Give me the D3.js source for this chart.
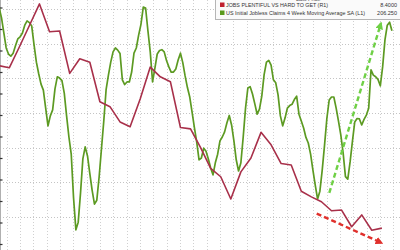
<html><head>
<script src="https://d3js.org/d3.v7.min.js"></script>
<style>
body {
  margin: 0;
  padding: 0;
  background: white;
}
svg { display: block; }
text { font-family: 'Liberation Sans', Arial, sans-serif; }
</style>
</head>
<body>
<svg id="chart" width="400" height="250"></svg>
<script>
// JOBS PLENTIFUL VS HARD TO GET (monthly, right axis R1)
const jobsDiff = [31.8, 31.5, 34.5, 37.6, 40.7, 36.7, 36.8, 30.7, 32.8, 32.3,
  26.6, 25.9, 23.7, 23.0, 27.0, 31.6, 30.2, 29.5, 22.9, 22.7,
  20.0, 17.0, 15.8, 12.6, 16.5, 18.5, 22.2, 20.4, 17.7, 17.5,
  13.7, 12.9, 12.2, 10.9, 11.0, 8.6, 10.3, 8.1, 8.4];

// US initial jobless claims 4wk avg (weekly, left axis L1)
const claims = [210.0, 207.7, 204.2, 200.7, 199.3, 198.8, 199.5, 201.2, 202.8, 203.3,
  204.2, 206.0, 207.0, 206.6, 205.8, 201.4, 197.4, 194.7, 192.3, 190.9,
  186.7, 182.6, 184.9, 186.3, 191.2, 194.0, 193.7, 193.1, 190.2, 184.9,
  180.0, 176.0, 165.8, 158.4, 160.2, 167.0, 174.9, 177.7, 175.6, 171.5,
  167.6, 164.4, 165.3, 170.7, 177.2, 183.7, 191.0, 194.4, 197.4, 199.8,
  200.7, 200.2, 199.4, 193.3, 192.2, 192.8, 192.8, 195.1, 199.5, 200.7,
  203.7, 206.2, 210.2, 210.0, 204.7, 199.8, 192.8, 196.0, 199.3, 200.1,
  200.3, 199.8, 197.8, 196.3, 195.1, 195.1, 195.8, 197.9, 199.5, 197.3,
  194.2, 191.5, 189.3, 185.8, 182.2, 178.8, 174.7, 175.1, 177.4, 176.7,
  174.9, 172.8, 171.2, 174.0, 176.0, 179.1, 180.0, 181.2, 183.3, 185.0,
  182.8, 179.1, 174.7, 172.1, 174.0, 180.0, 186.7, 191.4, 191.7, 190.0,
  187.7, 185.3, 186.5, 189.5, 194.5, 197.4, 197.8, 196.7, 193.3, 192.6,
  189.8, 184.9, 182.6, 184.4, 186.7, 187.3, 187.6, 188.7, 189.5, 185.3,
  183.7, 182.1, 179.9, 178.6, 176.0, 172.3, 168.8, 165.6, 167.4, 172.3,
  178.1, 184.3, 188.6, 189.3, 189.3, 186.7, 183.7, 180.5, 176.3, 170.8,
  170.2, 174.2, 179.0, 183.5, 184.3, 184.2, 182.8, 184.1, 185.1, 186.7,
  195.6, 194.4, 194.0, 193.4, 191.9, 196.3, 202.6, 206.0, 206.7, 204.7];

const legendLabels = ["JOBS PLENTIFUL VS HARD TO GET  (R1)",
  "US Initial Jobless Claims 4 Week Moving Average SA  (L1)"];
const legendValues = ["8.4000", "206.250"];
const rightTicks = [10, 15, 20, 25, 30, 35, 40];
const leftTicks = d3.range(155, 215, 5);

// trend arrows: [month start, value start, month end, value end]
const greenArrow = [32.78, 167.0, 37.92, 206.5];
const redArrow = [31.53, 10.5, 38.0, 6.25];

const W = 400, H = 250;
const svg = d3.select("#chart");

const xM = d3.scaleLinear().domain([0, 40]).range([-0.8, 402]);
const xW = d3.scaleLinear().domain([0, 40 * 52 / 12]).range(xM.range());
const yR = d3.scaleLinear().domain([5.245, 41.27]).range([H, 0]);
const yL = d3.scaleLinear().domain([153.72, 211.86]).range([H, 0]);

const redCol = "#a8304a", greenCol = "#5c9a22";

// grid
const grid = svg.append("g");
grid.selectAll("line.h").data(rightTicks).join("line")
  .attr("x1", 0).attr("x2", W)
  .attr("y1", d => Math.round(yR(d)) + 0.5).attr("y2", d => Math.round(yR(d)) + 0.5)
  .attr("stroke", "#c4c4c4").attr("stroke-dasharray", "1,2");
grid.selectAll("line.v").data(d3.range(0.745, 40, 1.324)).join("line")
  .attr("x1", d => Math.round(xM(d)) + 0.5).attr("x2", d => Math.round(xM(d)) + 0.5)
  .attr("y1", 0).attr("y2", H)
  .attr("stroke", "#d0d0d0").attr("stroke-dasharray", "1,2");

// left axis edge + ticks
svg.append("line").attr("x1", 0.5).attr("x2", 0.5).attr("y1", 0).attr("y2", H)
  .attr("stroke", "#b0b0b0");
svg.selectAll("line.lt").data(leftTicks).join("line")
  .attr("x1", 0).attr("x2", 2.5)
  .attr("y1", d => yL(d)).attr("y2", d => yL(d))
  .attr("stroke", "#333").attr("stroke-width", 1.2);

// series
svg.append("path").datum(claims)
  .attr("fill", "none").attr("stroke", greenCol).attr("stroke-width", 1.7)
  .attr("stroke-linejoin", "round")
  .attr("d", d3.line().x((d, i) => xW(i)).y(d => yL(d)));

svg.append("path").datum(jobsDiff)
  .attr("fill", "none").attr("stroke", redCol).attr("stroke-width", 1.6)
  .attr("stroke-linejoin", "round")
  .attr("d", d3.line().x((d, i) => xM(i)).y(d => yR(d)));

// dashed trend arrows
const defs = svg.append("defs");
function marker(id, col) {
  defs.append("marker").attr("id", id)
    .attr("viewBox", "0 0 10 10").attr("refX", 8).attr("refY", 5)
    .attr("markerWidth", 3.2).attr("markerHeight", 3.2).attr("orient", "auto")
    .append("path").attr("d", "M0,0L10,5L0,10Z").attr("fill", col);
}
marker("hg", "#6fd046");
marker("hr", "#e0302c");
svg.append("line")
  .attr("x1", xM(greenArrow[0])).attr("y1", yL(greenArrow[1]))
  .attr("x2", xM(greenArrow[2])).attr("y2", yL(greenArrow[3]))
  .attr("stroke", "#6fd046").attr("stroke-width", 2.4).attr("stroke-dasharray", "5,3")
  .attr("marker-end", "url(#hg)");
svg.append("line")
  .attr("x1", xM(redArrow[0])).attr("y1", yR(redArrow[1]))
  .attr("x2", xM(redArrow[2])).attr("y2", yR(redArrow[3]))
  .attr("stroke", "#e0302c").attr("stroke-width", 2.4).attr("stroke-dasharray", "5,3")
  .attr("marker-end", "url(#hr)");

// legend
const lg = svg.append("g");
lg.append("rect").attr("x", 215.5).attr("y", -4).attr("width", 190).attr("height", 23.5)
  .attr("fill", "#fafafa").attr("stroke", "#b5b5b5");
lg.append("text").attr("x", 296).attr("y", 1.2).attr("font-size", 5.5).attr("fill", "#444")
  .text("Last Price");
const rows = [{c: "#c0202e", w: 102}, {c: "#5a9a1c", w: 139}];
rows.forEach((r, i) => {
  const y = 7 + i * 8;
  lg.append("rect").attr("x", 220).attr("y", y - 4.5).attr("width", 4.5).attr("height", 4.5)
    .attr("fill", r.c);
  lg.append("text").attr("x", 226).attr("y", y).attr("font-size", 5.5).attr("fill", "#333")
    .attr("textLength", r.w).attr("lengthAdjust", "spacingAndGlyphs")
    .text(legendLabels[i]);
  lg.append("text").attr("x", 397).attr("y", y).attr("font-size", 5.5).attr("fill", "#333")
    .attr("text-anchor", "end").text(legendValues[i]);
});
</script>
</body>
</html>
